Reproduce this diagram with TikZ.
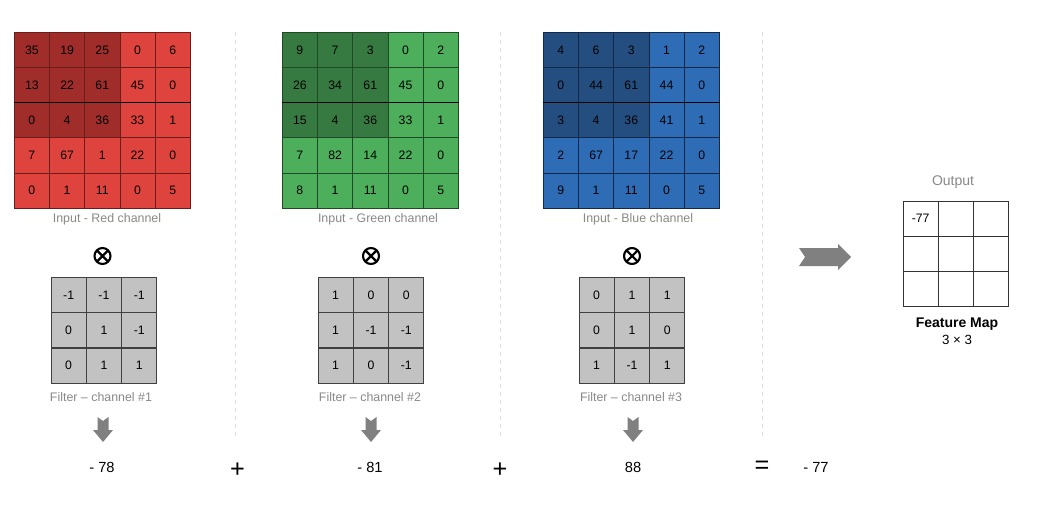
\documentclass[tikz,border=0pt]{standalone}
\usepackage{fontspec}
\setmainfont{Liberation Sans}
\usetikzlibrary{calc}
\definecolor{redlt}{HTML}{DF433E}
\definecolor{reddk}{HTML}{A02D2A}
\definecolor{redln}{HTML}{6E1C1A}
\definecolor{grnlt}{HTML}{4DAE5B}
\definecolor{grndk}{HTML}{367A41}
\definecolor{grnln}{HTML}{1F4A26}
\definecolor{blult}{HTML}{2E6CB6}
\definecolor{bludk}{HTML}{244D80}
\definecolor{bluln}{HTML}{13294A}
\definecolor{filtgray}{HTML}{C2C2C2}
\definecolor{capgray}{HTML}{888888}
\definecolor{arrgray}{HTML}{808080}
\definecolor{sepgray}{HTML}{DDDDDD}
% one input channel: name, left, top, light, dark, lines, values
\newcommand{\inmap}[7]{\foreach \v [count=\k from 0] in {#7}{
    \pgfmathtruncatemacro{\rr}{div(\k,5)} \pgfmathtruncatemacro{\cc}{mod(\k,5)}
    \ifnum\rr<3 \ifnum\cc<3 \def\fc{#5}\else\def\fc{#4}\fi\else\def\fc{#4}\fi
    \node[cell,fill=\fc,draw=#6] (#1-\rr-\cc) at ({#2+(\cc+0.5)*35.2},{#3+(\rr+0.5)*35.2}) {\v};}
  \draw[black,line width=0.7pt] (#1-2-0.north west) -- (#1-2-4.north east);}
% one 3x3 filter: name, left, top, values
\newcommand{\filt}[4]{\foreach \v [count=\k from 0] in {#4}{
    \pgfmathtruncatemacro{\rr}{div(\k,3)} \pgfmathtruncatemacro{\cc}{mod(\k,3)}
    \node[cell,fill=filtgray,draw=black!75] (#1-\rr-\cc) at ({#2+(\cc+0.5)*35.3},{#3+(\rr+0.5)*35.3}) {\v};}}
\tikzset{cell/.style={minimum size=26.4pt,inner sep=0pt,line width=0.6pt,font=\fontsize{9.2}{11}\selectfont},
  caption/.style={text=capgray,font=\fontsize{9.3}{11}\selectfont},
  num/.style={font=\fontsize{11}{13}\selectfont},
  op/.style={font=\fontsize{19}{21}\selectfont},
  conv/.style={circle,draw,line width=1.6pt,minimum size=12pt,inner sep=0pt,
    path picture={\draw[line width=1.6pt] (path picture bounding box.north west)--(path picture bounding box.south east)
      (path picture bounding box.north east)--(path picture bounding box.south west);}},
  sep/.style={sepgray,dashed,line width=0.6pt},
  pics/downarr/.style={code={\fill[arrgray] (-5.5,-12)--(0,-8)--(5.5,-12)--(5.5,1)--(10,1)--(0,13)--(-10,1)--(-5.5,1)--cycle;}},
  pics/rightarr/.style={code={\fill[arrgray] (-26,-9)--(13,-9)--(13,-13)--(26,0)--(13,13)--(13,9)--(-26,9)--(-20,0)--cycle;}}}

\begin{document}
\begin{tikzpicture}[x=0.75pt,y=-0.75pt]
\useasboundingbox (0,0) rectangle (1041,524);
\draw[sep] (235.5,32)--(235.5,440); \draw[sep] (500.5,32)--(500.5,440); \draw[sep] (762.5,32)--(762.5,440);
% input channels
\inmap{R}{14.3}{32.3}{redlt}{reddk}{redln}{35,19,25,0,6,13,22,61,45,0,0,4,36,33,1,7,67,1,22,0,0,1,11,0,5}
\inmap{G}{282.3}{32.3}{grnlt}{grndk}{grnln}{9,7,3,0,2,26,34,61,45,0,15,4,36,33,1,7,82,14,22,0,8,1,11,0,5}
\inmap{B}{543.3}{32.3}{blult}{bludk}{bluln}{4,6,3,1,2,0,44,61,44,0,3,4,36,41,1,2,67,17,22,0,9,1,11,0,5}
\node[caption] (Rcap) at (107,219) {Input - Red channel};
\node[caption] (Gcap) at (378,219) {Input - Green channel};
\node[caption] (Bcap) at (638,219) {Input - Blue channel};
\node[conv] (x1) at (102.5,256) {}; \node[conv] (x2) at (371,256) {}; \node[conv] (x3) at (632,256) {};
% filters
\filt{F1}{51}{277.3}{-1,-1,-1,0,1,-1,0,1,1}
\filt{F2}{318}{277.3}{1,0,0,1,-1,-1,1,0,-1}
\filt{F3}{579}{277.3}{0,1,1,0,1,0,1,-1,1}
\node[caption] (F1cap) at (101,397) {Filter -- channel \#1};
\node[caption] (F2cap) at (370,397) {Filter -- channel \#2};
\node[caption] (F3cap) at (631,397) {Filter -- channel \#3};
\pic at (103,429) {downarr}; \pic at (371,429) {downarr}; \pic at (633,429) {downarr};
\node[num] (s1) at (102,467) {- 78}; \node[op] (p1) at (237.5,470) {+};
\node[num] (s2) at (370,467) {- 81}; \node[op] (p2) at (500,470) {+};
\node[num] (s3) at (633,467) {88}; \node[op] (eq) at (762,467) {=};
\node[num] (tot) at (816,467) {- 77};
% output
\pic at (825,257) {rightarr};
\node[text=capgray,font=\fontsize{10.5}{12}\selectfont] (outcap) at (953,182) {Output};
\foreach \rr in {0,1,2}{\foreach \cc in {0,1,2}{
  \node[cell,fill=white,draw=black!80] (O-\rr-\cc) at ({903+(\cc+0.5)*35.3},{201+(\rr+0.5)*35.3}) {};}}
\node[font=\fontsize{9.2}{11}\selectfont] (o77) at (O-0-0) {-77};
\node[font=\bfseries\fontsize{10.5}{12}\selectfont] (fm) at (957,324) {Feature Map};
\node[font=\fontsize{10}{12}\selectfont] (fmsz) at (957,340) {3 × 3};
\end{tikzpicture}
\end{document}
